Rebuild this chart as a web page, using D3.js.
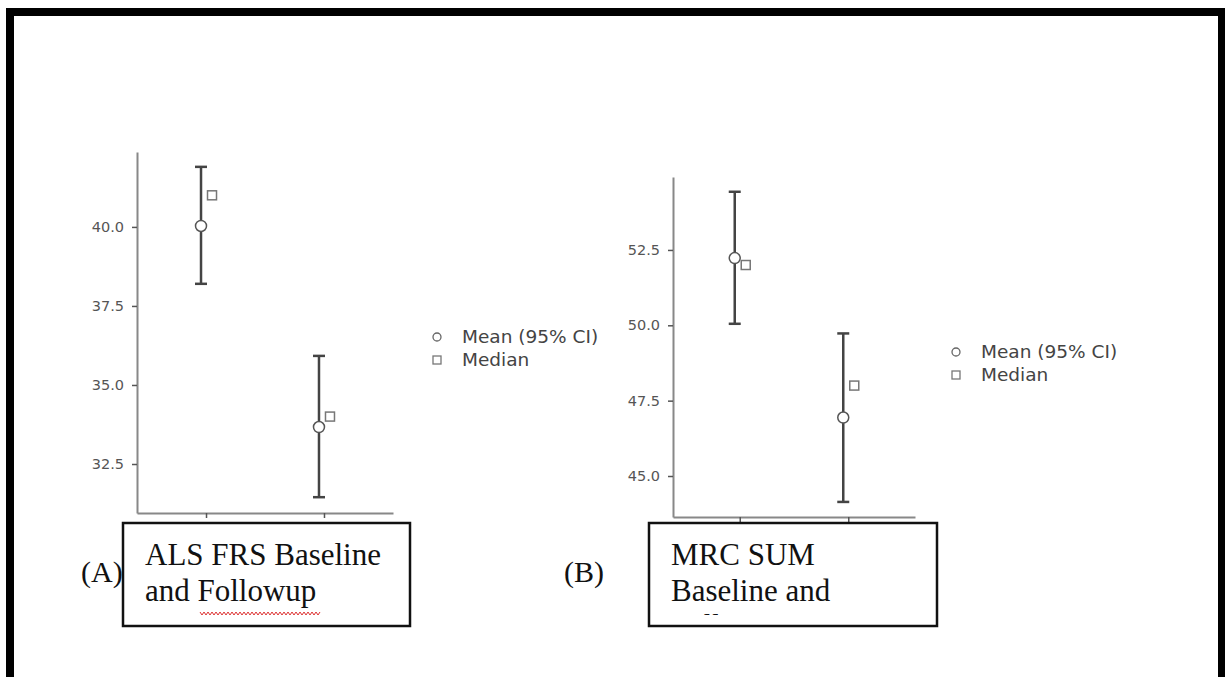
<!DOCTYPE html>
<html>
<head>
<script src="https://d3js.org/d3.v7.min.js"></script>
<style>
  body { margin: 0; background: #fff; }
  svg { display: block; }
</style>
</head>
<body>
<svg width="1225" height="677"></svg>
<script>
// data
const groups = ["Baseline", "Followup"];

const alsMean = [40.03, 33.67];
const alsLower = [38.2, 31.45];
const alsUpper = [41.9, 35.92];
const alsMedian = [41, 34];
const alsTicks = [32.5, 35.0, 37.5, 40.0];

const mrcMean = [52.23, 46.94];
const mrcLower = [50.05, 44.14];
const mrcUpper = [54.43, 49.73];
const mrcMedian = [52, 48];
const mrcTicks = [45.0, 47.5, 50.0, 52.5];

const legendLabels = ["Mean (95% CI)", "Median"];

let svg = d3.select("svg");

// outer frame
svg.append("rect")
    .attr("x", 10).attr("y", 12)
    .attr("width", 1212).attr("height", 700)
    .attr("fill", "none")
    .attr("stroke", "#000")
    .attr("stroke-width", 8);

function drawPanel(opt) {
    let g = svg.append("g");

    let yScale = d3.scaleLinear().domain(opt.yDomain).range([opt.bottom, opt.top]);
    let xScale = d3.scalePoint().domain(groups).range([opt.left, opt.right]).padding(opt.pad);

    // y axis
    let yAxis = d3.axisLeft(yScale).tickValues(opt.ticks).tickSize(5).tickSizeOuter(0)
        .tickFormat(d3.format(".1f"));
    let ya = g.append("g").attr("transform", `translate(${opt.left},0)`).call(yAxis);
    ya.select(".domain").attr("stroke", "#888").attr("stroke-width", 2);
    ya.selectAll(".tick line").attr("stroke", "#555").attr("stroke-width", 1.5);
    ya.selectAll(".tick text")
        .attr("font-family", "DejaVu Sans, sans-serif")
        .attr("font-size", 14.5)
        .attr("fill", "#555")
        .attr("x", -13);

    // x axis
    let xAxis = d3.axisBottom(xScale).tickSize(5).tickSizeOuter(0).tickFormat("");
    let xa = g.append("g").attr("transform", `translate(0,${opt.bottom})`).call(xAxis);
    xa.select(".domain").attr("stroke", "#888").attr("stroke-width", 2);
    xa.selectAll(".tick line").attr("stroke", "#555").attr("stroke-width", 1.5);

    let rows = groups.map((k, i) => ({
        k: k, mean: opt.mean[i], lo: opt.lower[i], hi: opt.upper[i], med: opt.median[i]
    }));

    // error bars
    rows.forEach(d => {
        let x = xScale(d.k) - 5;
        g.append("line")
            .attr("x1", x).attr("x2", x)
            .attr("y1", yScale(d.lo)).attr("y2", yScale(d.hi))
            .attr("stroke", "#444").attr("stroke-width", 2.5);
        [d.lo, d.hi].forEach(v => {
            g.append("line")
                .attr("x1", x - 6).attr("x2", x + 6)
                .attr("y1", yScale(v)).attr("y2", yScale(v))
                .attr("stroke", "#444").attr("stroke-width", 2.5);
        });
    });

    // means
    g.selectAll("circle.mean").data(rows).join("circle")
        .attr("class", "mean")
        .attr("cx", d => xScale(d.k) - 5)
        .attr("cy", d => yScale(d.mean))
        .attr("r", 5.5)
        .attr("fill", "#fff")
        .attr("stroke", "#555")
        .attr("stroke-width", 1.5);

    // medians
    g.selectAll("rect.median").data(rows).join("rect")
        .attr("class", "median")
        .attr("x", d => xScale(d.k) + 6 - 4.5)
        .attr("y", d => yScale(d.med) - 4.5)
        .attr("width", 9).attr("height", 9)
        .attr("fill", "#fff")
        .attr("stroke", "#777")
        .attr("stroke-width", 1.5);

    // legend
    let lg = g.append("g").attr("transform", `translate(${opt.legX},${opt.legY})`);
    lg.append("circle").attr("cx", 0).attr("cy", 0).attr("r", 4)
        .attr("fill", "#fff").attr("stroke", "#666").attr("stroke-width", 1.3);
    lg.append("rect").attr("x", -4).attr("y", 19).attr("width", 8).attr("height", 8)
        .attr("fill", "#fff").attr("stroke", "#777").attr("stroke-width", 1.3);
    lg.selectAll("text").data(legendLabels).join("text")
        .attr("x", 25)
        .attr("y", (d, i) => 6 + i * 23)
        .attr("font-family", "DejaVu Sans, sans-serif")
        .attr("font-size", 18.5)
        .attr("fill", "#444")
        .text(d => d);

    // panel letter
    g.append("text")
        .attr("x", opt.letterX).attr("y", 582)
        .attr("font-family", "Liberation Serif, Times New Roman, serif")
        .attr("font-size", 30)
        .attr("fill", "#111")
        .text(opt.letter);

    // caption box
    let clipId = "clip" + opt.letter.replace(/\W/g, "");
    svg.append("clipPath").attr("id", clipId)
        .append("rect").attr("x", opt.boxX).attr("y", 523)
        .attr("width", opt.boxW).attr("height", 92);
    g.append("rect")
        .attr("x", opt.boxX).attr("y", 523)
        .attr("width", opt.boxW).attr("height", 103)
        .attr("fill", "#fff")
        .attr("stroke", "#111")
        .attr("stroke-width", 2.5);
    g.append("g").attr("clip-path", `url(#${clipId})`)
        .selectAll("text").data(opt.caption).join("text")
        .attr("x", opt.boxX + 22)
        .attr("y", (d, i) => 565 + i * 35.5)
        .attr("font-family", "Liberation Serif, Times New Roman, serif")
        .attr("font-size", 31)
        .attr("fill", "#111")
        .text(d => d);
    return g;
}

let gA = drawPanel({
    left: 137, right: 393, top: 152, bottom: 513, pad: 0.585,
    yDomain: [30.95, 42.37], ticks: alsTicks,
    mean: alsMean, lower: alsLower, upper: alsUpper, median: alsMedian,
    legX: 437, legY: 337,
    letter: "(A)", letterX: 81,
    boxX: 123, boxW: 287,
    caption: ["ALS FRS Baseline", "and Followup"]
});

// spell-check squiggle under "Followup"
let sq = "M 200 612";
for (let x = 200; x < 320; x += 4) {
    sq += ` L ${x + 2} 615 L ${x + 4} 612`;
}
gA.append("path").attr("d", sq).attr("fill", "none")
    .attr("stroke", "#d33").attr("stroke-width", 1);

let gB = drawPanel({
    left: 673, right: 915, top: 177, bottom: 517, pad: 0.615,
    yDomain: [43.64, 54.92], ticks: mrcTicks,
    mean: mrcMean, lower: mrcLower, upper: mrcUpper, median: mrcMedian,
    legX: 956, legY: 352,
    letter: "(B)", letterX: 564,
    boxX: 649, boxW: 288,
    caption: ["MRC SUM", "Baseline and", "Followup"]
});
</script>
</body>
</html>
